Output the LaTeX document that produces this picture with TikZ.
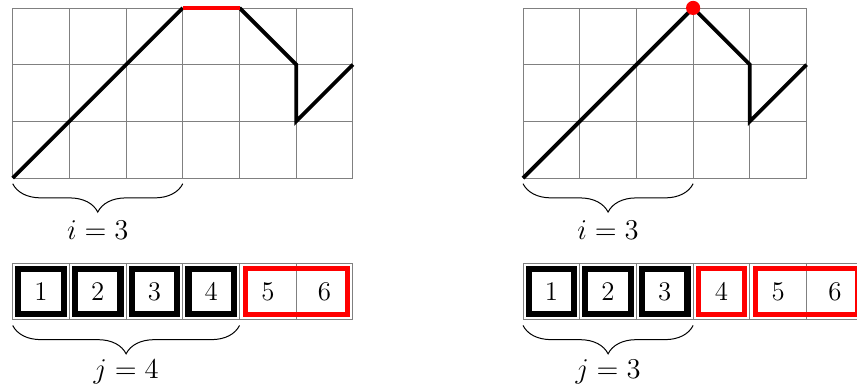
\documentclass[tikz,border=0pt]{standalone}
\usetikzlibrary{decorations.pathreplacing}
\begin{document}
\begin{tikzpicture}[
  gridline/.style={gray, line width=0.45pt},
  walk/.style={black, line width=1.9pt},
  redwalk/.style={red, line width=1.9pt},
  cell/.style={draw=gray, line width=0.45pt, minimum size=1cm, inner sep=0pt, outer sep=0pt, font=\fontsize{13.5}{16}\selectfont},
  blackbox/.style={draw=black, line width=3.1pt},
  redbox/.style={draw=red, line width=2.5pt},
  bracestyle/.style={decorate, decoration={brace, mirror, amplitude=0.5cm}, line width=0.5pt},
  lbl/.style={anchor=base, font=\fontsize{13.5}{16}\selectfont, inner sep=0pt}
]
\useasboundingbox (-0.224,-3.70) rectangle (14.89,3.14);

% ---------- left panel ----------
\draw[gridline] (0,0) grid (6,3);
\coordinate (a0) at (0,0);
\coordinate (a1) at (3,3);
\coordinate (a2) at (4,3);
\coordinate (a3) at (5,2);
\coordinate (a4) at (5,1);
\coordinate (a5) at (6,2);
\draw[walk, line join=round] (a0) -- (a1);
\draw[walk, line join=miter] (a2) -- (a3) -- (a4) -- (a5);
\draw[redwalk] (a1) -- (a2);

\coordinate (bl1) at (0,-0.1);
\coordinate (bl2) at (3,-0.1);
\draw[bracestyle] (bl1) -- (bl2);
\node[lbl] (il) at (1.5,-1.08) {$i=3$};

\foreach \k in {1,...,6} {
  \node[cell] (L\k) at (\k-0.5,-2) {\k};
}
\foreach \k in {1,...,4} {
  \draw[blackbox] ([shift={(0.1,0.1)}]L\k.south west) rectangle ([shift={(-0.1,-0.1)}]L\k.north east);
}
\draw[redbox] ([shift={(0.1,0.1)}]L5.south west) rectangle ([shift={(-0.1,-0.1)}]L6.north east);

\coordinate (cl1) at (0,-2.6);
\coordinate (cl2) at (4,-2.6);
\draw[bracestyle] (cl1) -- (cl2);
\node[lbl] (jl) at (2,-3.53) {$j=4$};

% ---------- right panel ----------
\draw[gridline] (9,0) grid (14,3);
\coordinate (b0) at (9,0);
\coordinate (b1) at (12,3);
\coordinate (b2) at (13,2);
\coordinate (b3) at (13,1);
\coordinate (b4) at (14,2);
\draw[walk, line join=miter] (b0) -- (b1) -- (b2) -- (b3) -- (b4);
\fill[red] (b1) circle (0.125);

\coordinate (br1) at (9,-0.1);
\coordinate (br2) at (12,-0.1);
\draw[bracestyle] (br1) -- (br2);
\node[lbl] (ir) at (10.5,-1.08) {$i=3$};

\foreach \k in {1,...,6} {
  \node[cell] (R\k) at (\k+8.5,-2) {\k};
}
\foreach \k in {1,...,3} {
  \draw[blackbox] ([shift={(0.1,0.1)}]R\k.south west) rectangle ([shift={(-0.1,-0.1)}]R\k.north east);
}
\draw[redbox] ([shift={(0.1,0.1)}]R4.south west) rectangle ([shift={(-0.1,-0.1)}]R4.north east);
\draw[redbox] ([shift={(0.1,0.1)}]R5.south west) rectangle ([shift={(-0.1,-0.1)}]R6.north east);

\coordinate (cr1) at (9,-2.6);
\coordinate (cr2) at (12,-2.6);
\draw[bracestyle] (cr1) -- (cr2);
\node[lbl] (jr) at (10.5,-3.53) {$j=3$};
\end{tikzpicture}
\end{document}
